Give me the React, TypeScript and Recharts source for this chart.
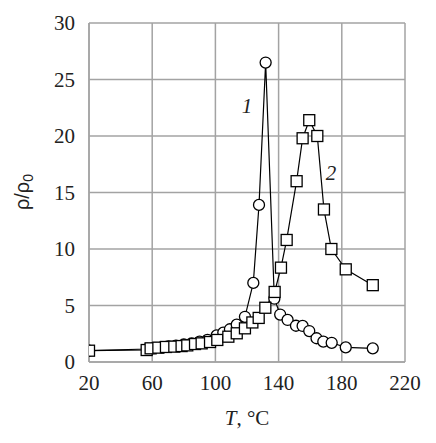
import {
  LineChart,
  Line,
  XAxis,
  YAxis,
  CartesianGrid,
  ReferenceDot,
} from "recharts";

// curve 1 (circles)
const tempsCircle = [
  20, 57, 61, 66, 70, 75, 80, 85, 90, 95, 100.8, 105, 109.2, 113.5, 118.7, 124,
  127.6, 131.8, 137.3, 141, 145.7, 151, 155.2, 159.4, 164, 168.3, 173.6, 182.5,
  199.6,
];
const rhoCircle = [
  1.0, 1.15, 1.22, 1.3, 1.38, 1.45, 1.55, 1.65, 1.8, 1.95, 2.35, 2.6, 2.9, 3.3,
  4.0, 7.0, 13.9, 26.5, 5.6, 4.2, 3.72, 3.21, 3.19, 2.74, 2.1, 1.8, 1.7, 1.3,
  1.21,
];

// curve 2 (squares)
const tempsSquare = [
  20, 56.5, 59, 63.9, 68.7, 74, 78.6, 82.2, 87.1, 91.3, 96.6, 101.2, 108.2,
  113.5, 118.7, 123.4, 127.4, 131.6, 137.5, 141.5, 145.1, 151.4, 155.2, 159.4,
  164.5, 168.7, 173.4, 182.5, 199.6,
];
const rhoSquare = [
  1.0, 1.06, 1.21, 1.27, 1.33, 1.36, 1.41, 1.47, 1.59, 1.65, 1.77, 1.95, 2.24,
  2.54, 2.98, 3.5, 3.9, 4.8, 6.2, 8.35, 10.8, 16.0, 19.8, 21.4, 20.0, 13.5,
  10.0, 8.2, 6.8,
];

const xTicks = [20, 60, 100, 140, 180, 220];
const yTicks = [0, 5, 10, 15, 20, 25, 30];

const circleData = tempsCircle.map((t, i) => ({ t, v: rhoCircle[i] }));
const squareData = tempsSquare.map((t, i) => ({ t, v: rhoSquare[i] }));

const GRID = "#a3a3a3";
const SERIF = "Liberation Serif";
const serifStyle = { fontFamily: "'Liberation Serif', serif" };

const SquareDot = (p: any) => (
  <rect
    key={`sq-${p.index}`}
    x={p.cx - 5.5}
    y={p.cy - 5.5}
    width={11}
    height={11}
    fill="#fff"
    stroke="#000"
    strokeWidth={1.3}
  />
);

const XTick = (p: any) => (
  <text
    x={p.x}
    y={p.y}
    dy="0.71em"
    textAnchor="middle"
    style={serifStyle}
    fontSize={21}
    fill="#222"
  >
    {p.payload.value}
  </text>
);

const YTick = (p: any) => (
  <text
    x={p.x}
    y={p.y}
    dy="0.35em"
    textAnchor="end"
    style={serifStyle}
    fontSize={21}
    fill="#222"
  >
    {p.payload.value}
  </text>
);

export default function App() {
  return (
    <div style={{ width: 436, height: 443, background: "#fff" }}>
      <style>{`body{margin:0}`}</style>
      <LineChart
        width={436}
        height={443}
        margin={{ top: 23, right: 31, left: 0, bottom: 0 }}
      >
        <CartesianGrid stroke={GRID} strokeWidth={1.5} />
        <XAxis
          type="number"
          dataKey="t"
          domain={[20, 220]}
          ticks={xTicks}
          height={81}
          stroke={GRID}
          strokeWidth={1.5}
          tickLine={false}
          tickSize={0}
          tickMargin={13}
          tick={XTick}
          allowDataOverflow
          label={{
            content: () => (
              <text
                x={247}
                y={425}
                textAnchor="middle"
                style={serifStyle}
                fontSize={21}
                fill="#222"
              >
                <tspan fontStyle="italic">T</tspan>
                <tspan>, °C</tspan>
              </text>
            ),
          }}
        />
        <YAxis
          type="number"
          dataKey="v"
          domain={[0, 30]}
          ticks={yTicks}
          width={89}
          stroke={GRID}
          strokeWidth={1.5}
          tickLine={false}
          tickSize={0}
          tickMargin={14}
          tick={YTick}
          label={{
            content: () => (
              <text
                x={24}
                y={192}
                transform="rotate(-90, 24, 192)"
                textAnchor="middle"
                dominantBaseline="middle"
                fontFamily="'Liberation Sans', Arial, sans-serif"
                fontSize={20}
                fill="#222"
              >
                <tspan>ρ/ρ</tspan>
                <tspan fontSize={14} dy={5}>
                  0
                </tspan>
              </text>
            ),
          }}
        />
        <Line
          data={circleData}
          dataKey="v"
          type="linear"
          stroke="#000"
          strokeWidth={1.2}
          dot={{ r: 5.5, fill: "#fff", stroke: "#000", strokeWidth: 1.3 }}
          isAnimationActive={false}
        />
        <Line
          data={squareData}
          dataKey="v"
          type="linear"
          stroke="#000"
          strokeWidth={1.2}
          dot={SquareDot}
          isAnimationActive={false}
        />
        <ReferenceDot
          x={120}
          y={22.7}
          r={0}
          fill="none"
          stroke="none"
          label={{
            value: "1",
            position: "center",
            fontFamily: SERIF,
            fontStyle: "italic",
            fontSize: 21,
            fill: "#222",
          }}
        />
        <ReferenceDot
          x={173.2}
          y={16.8}
          r={0}
          fill="none"
          stroke="none"
          label={{
            value: "2",
            position: "center",
            fontFamily: SERIF,
            fontStyle: "italic",
            fontSize: 21,
            fill: "#222",
          }}
        />
      </LineChart>
    </div>
  );
}
